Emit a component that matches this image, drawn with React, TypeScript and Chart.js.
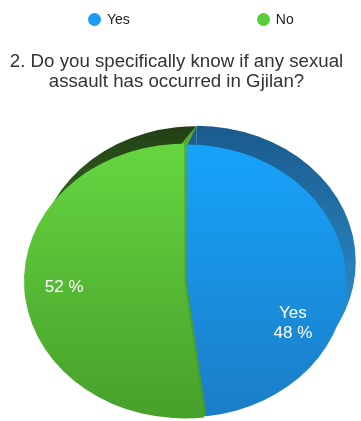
import React, { useEffect, useRef } from "react";
import { Chart, registerables } from "chart.js";

Chart.register(...registerables);

const categories = ["Yes", "No"];
const values = [48, 52];
const legendColors = ["#1a9cf4", "#5bcc3b"];
const titleLines = ["2. Do you specifically know if any sexual", "assault has occurred in Gjilan?"];
const sliceLabels = [["Yes", "48 %"], ["52 %"]];

const FACE_TOP = ["#17a3fb", "#66d541"];
const FACE_BOTTOM = ["#1b7dc6", "#47a02a"];
const RIM_TOP = ["#1a5a8c", "#233f15"];
const RIM_BOTTOM = ["#2a88c6", "#3f8e26"];
const SIDE_BLUE = "#1b5d91";
const WALL_TOP = "#54ab34";
const WALL_BOTTOM = "#46992b";
const SCALE_Y = 0.856;
const RIM_SHIFT = [[9, -19], [16, -19]];
const LABEL_ANGLE_SHIFT = [0.5, 0];
const LABEL_RADIUS = [0.73, 0.73];
const PIE_RADIUS = 159;
const SLICE_OFFSETS = [2, 6];

const FONT = "'Liberation Sans', Arial, Helvetica, sans-serif";

function sliceGeom(el: any) {
  const p = el.getProps(["x", "y", "startAngle", "endAngle", "outerRadius"], true);
  const off = el.options.offset || 0;
  const circ = p.endAngle - p.startAngle;
  const fix = 1 - Math.sin(Math.min(Math.PI, circ || 0));
  const mid = (p.startAngle + p.endAngle) / 2;
  const fx = p.x + Math.cos(mid) * off * fix;
  const fy = p.y + Math.sin(mid) * off * fix * SCALE_Y;
  const r = p.outerRadius;
  const pt = (a: number) => [fx + Math.cos(a) * r, fy + Math.sin(a) * r * SCALE_Y];
  return { ...p, fx, fy, mid, r, pt };
}

function poly(ctx: any, pts: number[][], fill: any) {
  ctx.fillStyle = fill;
  ctx.beginPath();
  pts.forEach((q, k) => (k === 0 ? ctx.moveTo(q[0], q[1]) : ctx.lineTo(q[0], q[1])));
  ctx.closePath();
  ctx.fill();
}

const pie3d = {
  id: "pie3d",
  beforeDatasetsDraw(chart: any) {
    const ctx = chart.ctx;
    const arcs = chart.getDatasetMeta(0).data;
    const geoms = arcs.map((el: any) => sliceGeom(el));
    ctx.save();
    [1, 0].forEach((i) => {
      const g0: any = geoms[i];
      const dx = RIM_SHIFT[i][0];
      const dy = RIM_SHIFT[i][1];
      const cx = g0.fx + dx;
      const cy = g0.fy + dy;
      const r = g0.r;
      const g = ctx.createLinearGradient(0, cy - r * SCALE_Y, 0, cy + r * SCALE_Y * 0.3);
      g.addColorStop(0, RIM_TOP[i]);
      g.addColorStop(1, RIM_BOTTOM[i]);
      ctx.fillStyle = g;
      ctx.beginPath();
      ctx.moveTo(cx, cy);
      ctx.ellipse(cx, cy, r, r * SCALE_Y, 0, g0.startAngle, g0.endAngle);
      ctx.closePath();
      ctx.fill();
    });
    const yes: any = geoms[0];
    const no: any = geoms[1];
    const [bdx, bdy] = RIM_SHIFT[0];
    const [gdx, gdy] = RIM_SHIFT[1];
    const tn = no.pt(no.endAngle);
    const bn = no.pt(no.startAngle);
    const ty = yes.pt(yes.startAngle);
    const by = yes.pt(yes.endAngle);
    poly(
      ctx,
      [ty, [ty[0] + bdx, ty[1] + bdy], [yes.fx + bdx, yes.fy + bdy], [yes.fx, yes.fy]],
      SIDE_BLUE
    );
    const wg = ctx.createLinearGradient(0, tn[1] + gdy, 0, bn[1]);
    wg.addColorStop(0, WALL_TOP);
    wg.addColorStop(1, WALL_BOTTOM);
    poly(
      ctx,
      [
        tn,
        [no.fx, no.fy],
        bn,
        by,
        [yes.fx, yes.fy],
        ty,
        [ty[0] + bdx, ty[1] + bdy],
        [tn[0] + gdx, tn[1] + gdy],
      ],
      wg
    );
    ctx.restore();
    const first = arcs[0];
    ctx.save();
    ctx.translate(first.x, first.y);
    ctx.scale(1, SCALE_Y);
    ctx.translate(-first.x, -first.y);
  },
  afterDatasetsDraw(chart: any) {
    const ctx = chart.ctx;
    ctx.restore();
    const arcs = chart.getDatasetMeta(0).data;
    ctx.save();
    ctx.fillStyle = "#ffffff";
    ctx.font = `17px ${FONT}`;
    ctx.textAlign = "center";
    ctx.textBaseline = "middle";
    arcs.forEach((el: any, i: number) => {
      const g = sliceGeom(el);
      const a = g.mid + LABEL_ANGLE_SHIFT[i];
      const rr = g.r * LABEL_RADIUS[i];
      const x = g.fx + Math.cos(a) * rr;
      const y = g.fy + Math.sin(a) * rr * SCALE_Y;
      const lines = sliceLabels[i];
      const lh = 20;
      lines.forEach((t, j) => {
        ctx.fillText(t, x, y + (j - (lines.length - 1) / 2) * lh);
      });
    });
    ctx.restore();
  },
};

function faceColor(i: number) {
  return (c: any) => {
    const chart = c.chart;
    const area = chart.chartArea;
    if (!area) return FACE_TOP[i];
    const cy = (area.top + area.bottom) / 2;
    const g = chart.ctx.createLinearGradient(0, cy - PIE_RADIUS, 0, cy + PIE_RADIUS);
    g.addColorStop(0, FACE_TOP[i]);
    g.addColorStop(1, FACE_BOTTOM[i]);
    return g;
  };
}

export default function App() {
  const ref = useRef<HTMLCanvasElement | null>(null);
  useEffect(() => {
    if (!ref.current) return;
    const chart = new Chart(ref.current, {
      type: "pie",
      data: {
        labels: categories,
        datasets: [
          {
            data: values,
            backgroundColor: (c: any) => faceColor(c.dataIndex)(c),
            borderWidth: 0,
            offset: SLICE_OFFSETS,
            radius: PIE_RADIUS,
            clip: false,
          } as any,
        ],
      },
      options: {
        responsive: false,
        devicePixelRatio: 1,
        animation: false,
        layout: { padding: { left: 11, right: 0, top: 100, bottom: 0 } },
        plugins: {
          legend: { display: false },
          tooltip: { enabled: false },
          title: { display: false },
        },
      } as any,
      plugins: [pie3d],
    });
    return () => chart.destroy();
  }, []);

  return (
    <div
      style={{
        position: "fixed",
        left: 0,
        top: 0,
        width: 361,
        height: 421,
        overflow: "hidden",
        background: "#ffffff",
      }}
    >
      <canvas ref={ref} width={361} height={462} style={{ display: "block" }} />
      <div
        style={{
          position: "absolute",
          top: 10,
          left: 88,
          display: "flex",
          alignItems: "center",
          gap: 127,
          fontFamily: FONT,
          fontSize: 14,
          color: "#222",
          lineHeight: "18px",
        }}
      >
        {categories.map((c, i) => (
          <div key={c} style={{ display: "flex", alignItems: "center", gap: 6 }}>
            <span
              style={{
                width: 13,
                height: 13,
                borderRadius: "50%",
                background: legendColors[i],
                display: "inline-block",
              }}
            />
            <span>{c}</span>
          </div>
        ))}
      </div>
      <div
        style={{
          position: "absolute",
          top: 51,
          left: 0,
          width: 353,
          textAlign: "center",
          fontFamily: FONT,
          fontSize: 18.7,
          lineHeight: "20px",
          color: "#333333",
          whiteSpace: "nowrap",
        }}
      >
        {titleLines.map((t) => (
          <div key={t}>{t}</div>
        ))}
      </div>
    </div>
  );
}
